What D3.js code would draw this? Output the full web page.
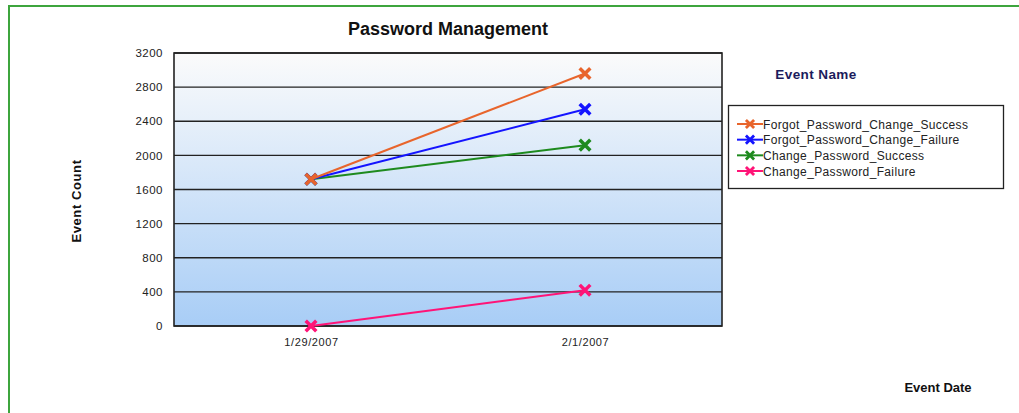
<!DOCTYPE html>
<html>
<head>
<meta charset="utf-8">
<script src="https://cdn.jsdelivr.net/npm/d3@7"></script>
<style>
  body { margin: 0; background: #fff; }
  svg { display: block; font-family: "Liberation Sans", Arial, sans-serif; }
</style>
</head>
<body>
<svg width="1019" height="413"></svg>
<script>
// chart data
const dates = ["1/29/2007", "2/1/2007"];
const seriesNames = ["Forgot_Password_Change_Success", "Forgot_Password_Change_Failure", "Change_Password_Success", "Change_Password_Failure"];
const forgotSuccess = [1720, 2960];
const forgotFailure = [1720, 2540];
const changeSuccess = [1720, 2120];
const changeFailure = [0, 420];
const yTicks = [0, 400, 800, 1200, 1600, 2000, 2400, 2800, 3200];
const colors = ["#e8652c", "#1414ff", "#1e8a1e", "#ff1477"];

const series = [forgotSuccess, forgotFailure, changeSuccess, changeFailure]
    .map((v, i) => ({ name: seriesNames[i], values: v, color: colors[i] }));

// plot box
const plotL = 174, plotR = 722, plotT = 53, plotB = 326;

const svg = d3.select("svg");

// green frame (right/bottom edges fall outside the picture)
svg.append("path")
    .attr("d", "M9,1030 V6 H1030")
    .attr("fill", "none")
    .attr("stroke", "#3da53d")
    .attr("stroke-width", 2);

const x = d3.scalePoint().domain(dates).range([plotL, plotR]).padding(0.5);
const y = d3.scaleLinear().domain([0, 3200]).range([plotB, plotT]);

// background gradient
const grad = svg.append("defs").append("linearGradient")
    .attr("id", "bg").attr("x1", 0).attr("y1", 0).attr("x2", 0).attr("y2", 1);
grad.append("stop").attr("offset", "0%").attr("stop-color", "#fbfbfb");
grad.append("stop").attr("offset", "100%").attr("stop-color", "#a8cdf6");

svg.append("rect")
    .attr("x", plotL).attr("y", plotT)
    .attr("width", plotR - plotL).attr("height", plotB - plotT)
    .attr("fill", "url(#bg)");

// gridlines
svg.append("g")
    .selectAll("line")
    .data(yTicks)
    .join("line")
    .attr("x1", plotL).attr("x2", plotR)
    .attr("y1", d => y(d)).attr("y2", d => y(d))
    .attr("stroke", "#222")
    .attr("stroke-width", 1.3);

svg.append("rect")
    .attr("x", plotL).attr("y", plotT)
    .attr("width", plotR - plotL).attr("height", plotB - plotT)
    .attr("fill", "none")
    .attr("stroke", "#222")
    .attr("stroke-width", 1.6);

// y axis
const yAxis = svg.append("g")
    .attr("transform", `translate(${plotL},0)`)
    .call(d3.axisLeft(y).tickValues(yTicks).tickFormat(d3.format("d")).tickSize(0).tickPadding(11));
yAxis.select(".domain").remove();
yAxis.selectAll("text")
    .attr("font-size", 11.5).attr("letter-spacing", 0.5)
    .attr("fill", "#222").attr("font-family", "Liberation Sans, Arial, sans-serif");

// x axis
const xAxis = svg.append("g")
    .attr("transform", `translate(0,${plotB})`)
    .call(d3.axisBottom(x).tickSize(0).tickPadding(12));
xAxis.select(".domain").remove();
xAxis.selectAll("text")
    .attr("font-size", 11).attr("letter-spacing", 0.6)
    .attr("fill", "#222").attr("font-family", "Liberation Sans, Arial, sans-serif");

// lines and markers
const line = d3.line().x((d, i) => x(dates[i])).y(d => y(d));
const marker = d3.symbol().type(d3.symbolTimes).size(75);

const sg = svg.append("g")
    .selectAll("g")
    .data(series.slice().reverse())
    .join("g");

sg.append("path")
    .attr("d", d => line(d.values))
    .attr("fill", "none")
    .attr("stroke", d => d.color)
    .attr("stroke-width", 2);

sg.selectAll("path.m")
    .data(d => d.values.map((v, i) => ({ v, i, color: d.color })))
    .join("path")
    .attr("class", "m")
    .attr("transform", d => `translate(${x(dates[d.i])},${y(d.v)})`)
    .attr("d", marker)
    .attr("fill", "none")
    .attr("stroke", d => d.color)
    .attr("stroke-width", 3.5);

// titles
svg.append("text")
    .attr("x", 448).attr("y", 35)
    .attr("text-anchor", "middle")
    .attr("font-size", 18).attr("font-weight", "bold")
    .attr("fill", "#111")
    .text("Password Management");

svg.append("text")
    .attr("transform", "translate(81,201) rotate(-90)")
    .attr("text-anchor", "middle")
    .attr("font-size", 13).attr("font-weight", "bold").attr("letter-spacing", 0.6)
    .attr("fill", "#111")
    .text("Event Count");

svg.append("text")
    .attr("x", 938).attr("y", 392)
    .attr("text-anchor", "middle")
    .attr("font-size", 13).attr("font-weight", "bold")
    .attr("fill", "#111")
    .text("Event Date");

svg.append("text")
    .attr("x", 816).attr("y", 79)
    .attr("text-anchor", "middle")
    .attr("font-size", 13.5).attr("font-weight", "bold").attr("letter-spacing", 0.4)
    .attr("fill", "#1c1c5c")
    .text("Event Name");

// legend
const lg = svg.append("g");
lg.append("rect")
    .attr("x", 728.5).attr("y", 105.5)
    .attr("width", 275).attr("height", 83)
    .attr("fill", "#fff")
    .attr("stroke", "#222")
    .attr("stroke-width", 1.3);

const rowY = d3.scaleLinear().domain([0, 3]).range([124, 171]);
const item = lg.selectAll("g.item")
    .data(series)
    .join("g")
    .attr("class", "item")
    .attr("transform", (d, i) => `translate(0,${rowY(i)})`);

item.append("line")
    .attr("x1", 737).attr("x2", 763)
    .attr("stroke", d => d.color)
    .attr("stroke-width", 2);
item.append("path")
    .attr("transform", "translate(750,0)")
    .attr("d", d3.symbol().type(d3.symbolTimes).size(45))
    .attr("fill", "none")
    .attr("stroke", d => d.color)
    .attr("stroke-width", 2.8);
item.append("text")
    .attr("x", 763).attr("y", 4.5)
    .attr("font-size", 12).attr("letter-spacing", 0.35)
    .attr("fill", "#222")
    .text(d => d.name);
</script>
</body>
</html>
